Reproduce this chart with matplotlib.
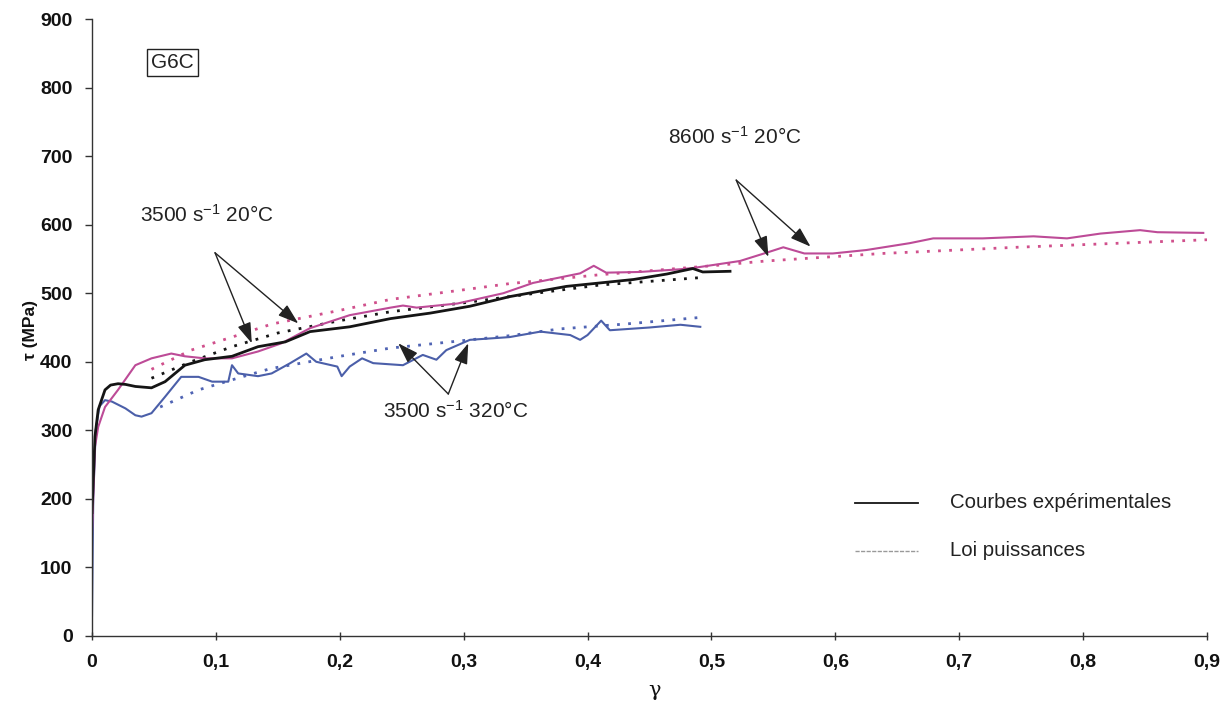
import matplotlib
matplotlib.use("Agg")
import matplotlib.pyplot as plt

plt.rcParams['font.family'] = ['Liberation Sans', 'DejaVu Sans']
plt.rcParams['mathtext.fontset'] = 'custom'
plt.rcParams['mathtext.rm'] = 'Liberation Sans'
plt.rcParams['mathtext.default'] = 'regular'

# ---- Experimental curves ----
g_black = [0, 0.0024, 0.005, 0.0105, 0.015, 0.021, 0.027, 0.035, 0.048, 0.059, 0.075, 0.091,
           0.113, 0.134, 0.156, 0.176, 0.208, 0.241, 0.273, 0.305, 0.337, 0.383, 0.437, 0.464,
           0.485, 0.493, 0.515]
t_black = [180, 291, 330, 359, 366, 368, 367, 364, 362, 371, 395, 403,
           408, 422, 429, 444, 451, 463, 471, 481, 495, 510, 520, 528,
           536, 531, 532]

g_mag = [0, 0.0024, 0.005, 0.0105, 0.021, 0.035, 0.048, 0.064, 0.075, 0.091, 0.113, 0.134,
         0.153, 0.176, 0.208, 0.241, 0.251, 0.262, 0.295, 0.332, 0.356, 0.394, 0.405, 0.415,
         0.442, 0.475, 0.486, 0.523, 0.546, 0.558, 0.575, 0.598, 0.625, 0.660, 0.679, 0.719,
         0.760, 0.787, 0.814, 0.846, 0.860, 0.897]
t_mag = [150, 276, 305, 334, 359, 395, 405, 412, 408, 405, 405, 415,
         427, 449, 468, 479, 482, 479, 485, 500, 515, 529, 540, 530,
         531, 535, 537, 547, 560, 567, 558, 558, 563, 573, 580, 580,
         583, 580, 587, 592, 589, 588]

g_blue = [0, 0.001, 0.003, 0.006, 0.0105, 0.016, 0.027, 0.035, 0.040, 0.048, 0.059, 0.072,
          0.086, 0.097, 0.110, 0.113, 0.118, 0.134, 0.145, 0.160, 0.173, 0.181, 0.198, 0.2015,
          0.208, 0.218, 0.227, 0.251, 0.267, 0.278, 0.286, 0.305, 0.337, 0.362, 0.386, 0.394,
          0.400, 0.411, 0.418, 0.450, 0.475, 0.491]
t_blue = [30, 200, 300, 335, 344, 342, 332, 322, 320, 325, 349, 378,
          378, 371, 371, 395, 383, 379, 383, 398, 412, 400, 393, 379,
          393, 405, 398, 395, 410, 403, 417, 432, 436, 444, 439, 432,
          439, 460, 446, 450, 454, 451]

# ---- Power-law fits (dotted) ----
gf_mag = [0.048, 0.08, 0.113, 0.145, 0.2, 0.241, 0.3, 0.337, 0.41, 0.5, 0.544, 0.638, 0.746, 0.9]
tf_mag = [389, 417, 436, 455, 475, 491, 505, 514, 527, 540, 547, 558, 567, 578]
gf_black = [0.048, 0.08, 0.113, 0.15, 0.2, 0.241, 0.3, 0.337, 0.41, 0.493]
tf_black = [376, 400, 422, 442, 460, 473, 486, 495, 512, 523]
gf_blue = [0.055, 0.086, 0.123, 0.144, 0.2, 0.241, 0.3, 0.337, 0.378, 0.43, 0.493]
tf_blue = [334, 359, 379, 390, 408, 420, 431, 438, 448, 455, 465]

xticks = [0, 0.1, 0.2, 0.3, 0.4, 0.5, 0.6, 0.7, 0.8, 0.9]
xticklabels = ['0', '0,1', '0,2', '0,3', '0,4', '0,5', '0,6', '0,7', '0,8', '0,9']
yticks = [0, 100, 200, 300, 400, 500, 600, 700, 800, 900]

C_BLACK = '#151515'
C_MAG = '#bd4b97'
C_BLUE = '#4b5fa9'

W, H = 1232, 711
fig = plt.figure(figsize=(W / 100, H / 100), dpi=100)
ax = fig.add_axes([92 / W, 1 - 636 / H, (1207 - 92) / W, (636 - 19) / H])

dot = (0, (1, 3))
ax.plot(gf_mag, tf_mag, color='#d0508c', lw=2, ls=dot)
ax.plot(gf_black, tf_black, color=C_BLACK, lw=2, ls=dot)
ax.plot(gf_blue, tf_blue, color='#5064b4', lw=2, ls=dot)

ax.plot(g_blue, t_blue, color=C_BLUE, lw=1.5)
ax.plot(g_mag, t_mag, color=C_MAG, lw=1.5)
ax.plot(g_black, t_black, color=C_BLACK, lw=2.0)

ax.set_xlim(0, 0.9)
ax.set_ylim(0, 900)
ax.set_xticks(xticks)
ax.set_xticklabels(xticklabels)
ax.set_yticks(yticks)
for s in ['top', 'right']:
    ax.spines[s].set_visible(False)
for s in ['left', 'bottom']:
    ax.spines[s].set_color('#333333')
    ax.spines[s].set_linewidth(1.0)
ax.tick_params(axis='y', direction='out', length=5, width=1, color='#333333', pad=9,
               labelsize=14)
ax.tick_params(axis='x', direction='inout', length=6, width=1, color='#333333', pad=10,
               labelsize=14)
for lab in ax.get_xticklabels() + ax.get_yticklabels():
    lab.set_fontweight('bold')
    lab.set_color('#111111')

# Axis labels placed in figure pixels
fig.text(30 / W, 1 - 330 / H, 'τ (MPa)', fontsize=12.5, fontweight='bold', rotation=90,
         ha='center', va='center', color='#111111')
fig.text(655 / W, 1 - 690 / H, 'γ', fontsize=15, family='DejaVu Serif',
         ha='center', va='center', color='#111111')

# G6C box
ax.text(0.065, 837, 'G6C', fontsize=15, ha='center', va='center', color='#222222',
        bbox=dict(boxstyle='square,pad=0.2', fc='white', ec='#222222', lw=1))

# Annotations
ap = dict(arrowstyle='-|>,head_length=0.9,head_width=0.3', mutation_scale=14,
          lw=1, color='#222222', shrinkA=0, shrinkB=0)
ax.text(0.0387, 614, '3500 s$^{-1}$ 20°C', fontsize=15, ha='left', va='center', color='#222222')
ax.annotate('', xy=(0.129, 427), xytext=(0.0993, 559), arrowprops=ap)
ax.annotate('', xy=(0.1665, 456), xytext=(0.0993, 559), arrowprops=ap)

ax.text(0.235, 328, '3500 s$^{-1}$ 320°C', fontsize=15, ha='left', va='center', color='#222222')
ax.annotate('', xy=(0.2472, 427), xytext=(0.2876, 353), arrowprops=ap)
ax.annotate('', xy=(0.3037, 427), xytext=(0.2876, 353), arrowprops=ap)

ax.text(0.465, 728, '8600 s$^{-1}$ 20°C', fontsize=15, ha='left', va='center', color='#222222')
ax.annotate('', xy=(0.546, 553), xytext=(0.520, 665), arrowprops=ap)
ax.annotate('', xy=(0.580, 568), xytext=(0.520, 665), arrowprops=ap)

# Legend (manual)
ax.plot([0.684, 0.741], [0.2156, 0.2156], transform=ax.transAxes, color=C_BLACK, lw=1.3,
        clip_on=False)
ax.plot([0.684, 0.741], [0.1378, 0.1378], transform=ax.transAxes, color='#999999', lw=1.0,
        ls=(0, (3, 1)), clip_on=False)
ax.text(0.7695, 0.2156, 'Courbes expérimentales', transform=ax.transAxes, fontsize=14.7,
        va='center', ha='left', color='#222222')
ax.text(0.7695, 0.1378, 'Loi puissances', transform=ax.transAxes, fontsize=14.7,
        va='center', ha='left', color='#222222')

fig.savefig('out.png', dpi=100, facecolor='white')
